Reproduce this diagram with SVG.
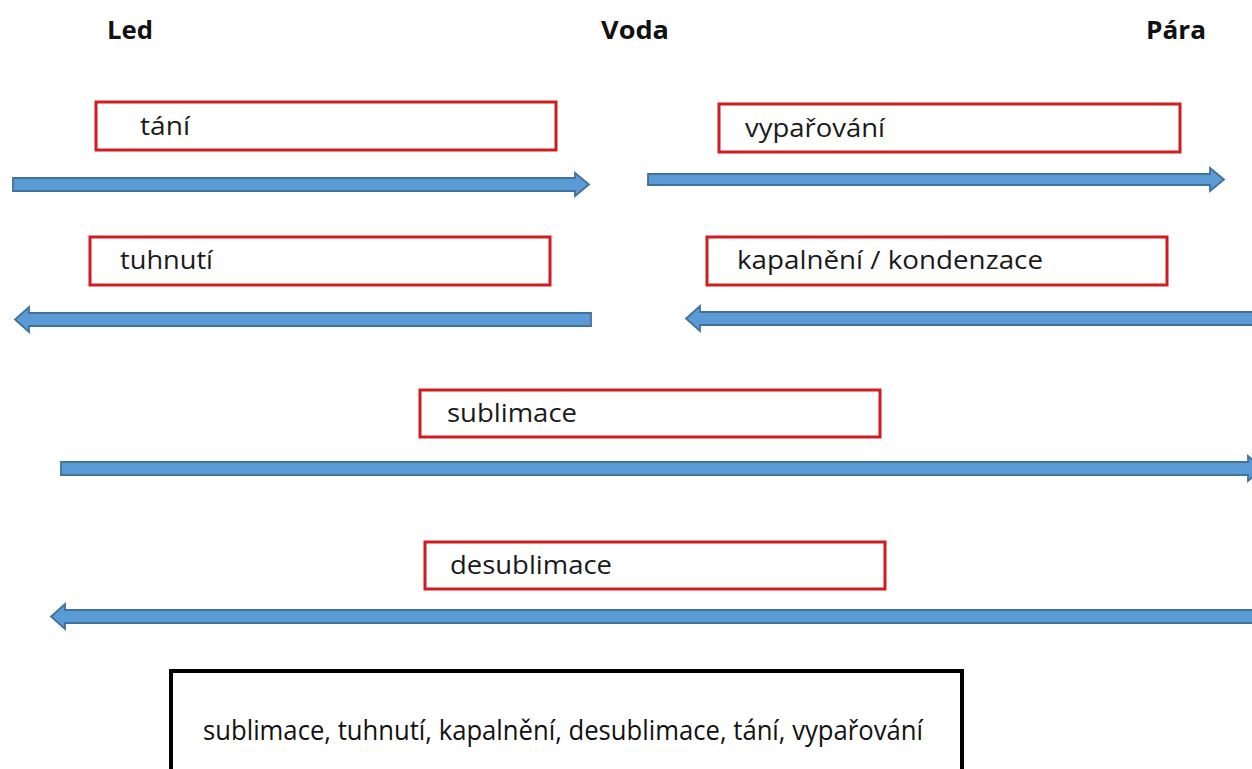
<svg xmlns="http://www.w3.org/2000/svg" width="1252" height="769" viewBox="0 0 1252 769">
  <style>
    .state { font-family: "Open Sans", "Noto Sans", "DejaVu Sans", sans-serif; font-weight: bold; font-size: 25px; fill: #111; }
    .box { fill: #fff; stroke: #cf1c20; stroke-width: 3; }
    .label { font-family: "Open Sans", "Noto Sans", "DejaVu Sans", sans-serif; font-size: 25px; fill: #1a1a1a; }
    .arrow { fill: #5b9bd5; stroke: #41719c; stroke-width: 1.8; stroke-linejoin: miter; }
    .key { fill: #fff; stroke: #000; stroke-width: 4; }
    .keytext { font-family: "Open Sans", "Noto Sans", "DejaVu Sans", sans-serif; font-size: 27px; fill: #111; }
  </style>
  <rect width="1252" height="769" fill="#fff"/>

  <!-- phase headings -->
  <g id="led"><text class="state" x="107" y="39" textLength="46" lengthAdjust="spacingAndGlyphs">Led</text></g>
  <g id="voda"><text class="state" x="601" y="39" textLength="68" lengthAdjust="spacingAndGlyphs">Voda</text></g>
  <g id="para"><text class="state" x="1146" y="39" textLength="60" lengthAdjust="spacingAndGlyphs">Pára</text></g>

  <!-- process labels -->
  <g id="tani"><rect class="box" x="96" y="102" width="460" height="48"/><text class="label" x="140" y="135" textLength="50" lengthAdjust="spacingAndGlyphs">tání</text></g>
  <g id="vyparovani"><rect class="box" x="719" y="104" width="461" height="48"/><text class="label" x="745" y="137" textLength="140" lengthAdjust="spacingAndGlyphs">vypařování</text></g>
  <g id="tuhnuti"><rect class="box" x="90" y="237" width="460" height="48"/><text class="label" x="120" y="269" textLength="93" lengthAdjust="spacingAndGlyphs">tuhnutí</text></g>
  <g id="kapalneni"><rect class="box" x="707" y="237" width="460" height="48"/><text class="label" x="737" y="269" textLength="306" lengthAdjust="spacingAndGlyphs">kapalnění / kondenzace</text></g>
  <g id="sublimace"><rect class="box" x="420" y="390" width="460" height="47"/><text class="label" x="447" y="422" textLength="130" lengthAdjust="spacingAndGlyphs">sublimace</text></g>
  <g id="desublimace"><rect class="box" x="425" y="542" width="460" height="47"/><text class="label" x="450" y="574" textLength="162" lengthAdjust="spacingAndGlyphs">desublimace</text></g>

  <!-- block arrows -->
  <g id="connectors">
    <path class="arrow" d="M13 178 H575 V173 L589 184.5 L575 196 V191 H13 Z"/>
    <path class="arrow" d="M648 174 H1210 V168 L1224 179.5 L1210 191 V185 H648 Z"/>
    <path class="arrow" d="M591 313 H29 V307 L15 319.5 L29 332 V326 H591 Z"/>
    <path class="arrow" d="M1253 312 H700 V306 L686 318.5 L700 331 V325 H1253 Z"/>
    <path class="arrow" d="M61 462 H1248 V456 L1262 468.5 L1248 481 V475 H61 Z"/>
    <path class="arrow" d="M1253 610 H65 V604 L51 616.5 L65 629 V623 H1253 Z"/>
  </g>

  <!-- answer key -->
  <g id="key">
    <rect class="key" x="171" y="671" width="791" height="110"/>
    <text class="keytext" x="563" y="740" text-anchor="middle" textLength="720" lengthAdjust="spacingAndGlyphs">sublimace, tuhnutí, kapalnění, desublimace, tání, vypařování</text>
  </g>
</svg>
